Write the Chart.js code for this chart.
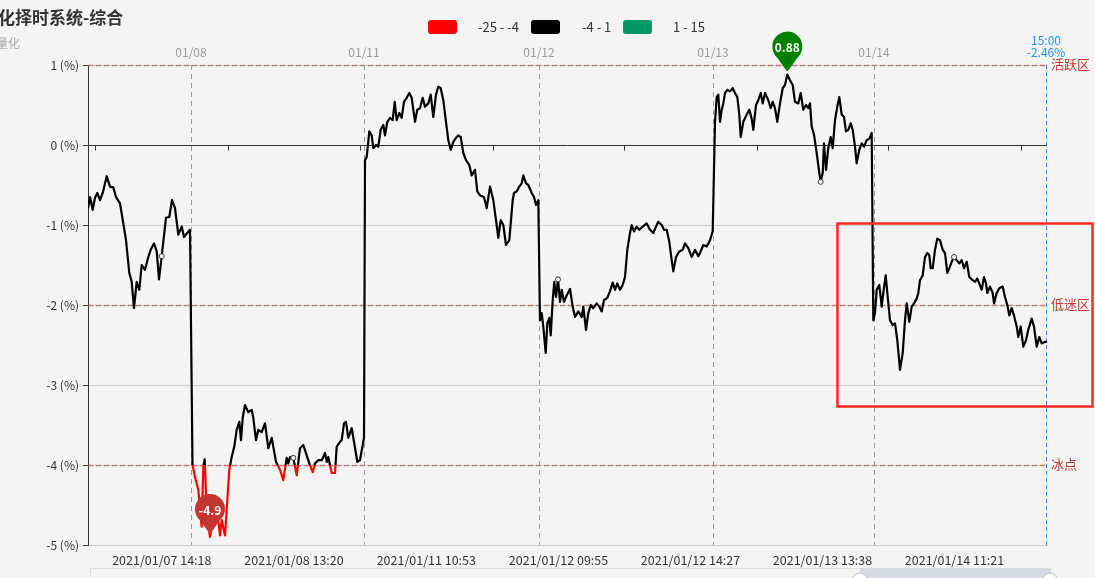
<!DOCTYPE html>
<html>
<head>
<meta charset="utf-8">
<script src="https://cdn.jsdelivr.net/npm/chart.js@4.4.1/dist/chart.umd.min.js"></script>
<style>
    html, body { margin: 0; padding: 0; background: #f4f4f4; }
    #wrap { position: relative; width: 1095px; height: 578px; overflow: hidden; }
</style>
</head>
<body>
<div id="wrap"><canvas id="trendChart" width="1095" height="578"></canvas></div>
<script>
// ---- data: position along the session axis and value (%) for each day ----
const pos0107 = [0, 2, 4.7, 7, 9.3, 12, 14.7, 18.7, 22, 25.3, 28, 32, 35.3, 38, 41.3, 43.7, 46, 48.7, 51.3, 53.7, 57, 60.3, 62.7, 66, 68.7, 71, 73.7, 78, 81.3, 84, 87, 90.3, 93.7, 96, 99.3, 102];
const val0107 = [-0.79, -0.65, -0.81, -0.66, -0.6, -0.69, -0.6, -0.39, -0.52, -0.53, -0.65, -0.73, -0.98, -1.19, -1.6, -1.71, -2.04, -1.71, -1.81, -1.5, -1.56, -1.4, -1.31, -1.23, -1.33, -1.68, -1.39, -0.91, -0.9, -0.69, -0.79, -1.12, -1.02, -1.15, -1.1, -1.06];

const pos0108 = [104.5, 107, 110.3, 113.7, 115.3, 116.7, 118.7, 122, 125.3, 128.7, 132, 133.7, 137, 138.7, 141.3, 143.7, 146.3, 148.7, 151.3, 153, 154.7, 157, 160.3, 163.7, 165.3, 168, 170.3, 173.7, 177, 180.3, 183.7, 185.3, 188, 192, 195.3, 198.7, 200.3, 202, 205.3, 208.7, 212, 215.3, 218.7, 221.3, 224.7, 227, 230.3, 233.7, 237, 238.7, 240.3, 243.7, 247, 248.7, 252, 253.7, 256, 258, 260.3, 263.7, 266, 269.3, 272, 274.7, 276];
const val0108 = [-4.0, -4.15, -4.31, -4.77, -4.02, -3.93, -4.6, -4.9, -4.69, -4.52, -4.88, -4.69, -4.88, -4.56, -4.06, -3.9, -3.77, -3.56, -3.46, -3.69, -3.41, -3.25, -3.34, -3.31, -3.41, -3.69, -3.56, -3.59, -3.48, -3.79, -3.66, -3.77, -3.96, -4.06, -4.19, -3.91, -3.98, -3.9, -3.91, -4.13, -3.79, -3.75, -3.88, -3.98, -4.09, -3.98, -3.94, -3.94, -3.85, -3.96, -3.9, -4.1, -4.1, -3.77, -3.71, -3.69, -3.48, -3.46, -3.66, -3.54, -3.71, -3.96, -3.94, -3.75, -3.66];

const pos0111 = [277, 278.7, 281.3, 283.7, 285.3, 288, 290.3, 292.7, 295.3, 297, 299.3, 302, 304.7, 306.7, 308.7, 311.3, 313.7, 316, 318.7, 321.3, 323.7, 327, 329.3, 332, 334.7, 337, 340.3, 342.7, 345.3, 348, 350.3, 352.7, 355.3, 358, 360.3, 362.7, 365.3, 368, 370.3, 372.7, 375.3, 378, 381.3, 383.7, 387, 389.3, 392, 396, 398.7, 402, 405.3, 408, 410.3, 412.7, 415.3, 418, 421.3, 424.7, 426, 428.7, 431.3, 433.7, 435.3, 438, 440.3, 443.7, 446, 448, 450.3];
const val0111 = [-0.19, -0.15, 0.17, 0.12, -0.04, 0, -0.02, 0.19, 0.25, 0.12, 0.29, 0.34, 0.31, 0.54, 0.31, 0.4, 0.34, 0.54, 0.59, 0.65, 0.59, 0.29, 0.44, 0.46, 0.59, 0.48, 0.52, 0.63, 0.35, 0.63, 0.73, 0.71, 0.56, 0.29, 0.06, -0.06, 0.04, 0.09, 0.12, 0.1, -0.1, -0.19, -0.25, -0.38, -0.31, -0.58, -0.63, -0.65, -0.79, -0.52, -0.69, -0.94, -1.16, -0.94, -1.0, -1.25, -1.19, -0.69, -0.6, -0.58, -0.52, -0.48, -0.38, -0.48, -0.5, -0.6, -0.65, -0.75, -0.69];

const pos0112 = [452, 453.7, 455.3, 457.7, 459.3, 461.3, 462.7, 464.7, 466.3, 468, 470, 472, 473.7, 476, 478.7, 482, 484.7, 487, 490.3, 493.7, 495.3, 498, 500.3, 502.7, 505.3, 508.7, 511.3, 513.7, 516, 519.3, 522, 524.7, 527, 529.3, 532, 534.7, 537, 539.3, 542, 543.7, 546, 548.7, 551.3, 554.7, 558.7, 562, 565.3, 568, 570.3, 573.7, 576, 578.7, 581.3, 583.7, 585.3, 588, 591.3, 594.7, 597, 600.3, 603.7, 607, 610.3, 612, 615.3, 618.7, 622, 624.7];
const val0112 = [-2.19, -2.1, -2.27, -2.6, -2.23, -2.16, -2.38, -1.94, -1.71, -1.9, -1.68, -1.96, -1.81, -1.96, -1.88, -1.8, -2.02, -2.15, -2.08, -2.15, -2.02, -2.31, -2.1, -2.0, -2.04, -1.98, -2.02, -2.08, -1.94, -1.91, -1.83, -1.72, -1.81, -1.73, -1.81, -1.75, -1.65, -1.31, -1.1, -1.0, -1.08, -1.02, -1.06, -1.02, -0.98, -1.06, -1.1, -1.02, -0.96, -1.0, -1.06, -1.06, -1.21, -1.44, -1.58, -1.4, -1.33, -1.31, -1.23, -1.29, -1.4, -1.31, -1.39, -1.35, -1.25, -1.27, -1.19, -1.08];

const pos0113 = [627, 628.7, 630.3, 632, 633.7, 635.3, 637, 639.3, 642, 644.7, 647, 649.3, 651.3, 652.7, 655.3, 658.7, 661.3, 663.7, 665.3, 668, 670.3, 672.7, 674.7, 677, 680.3, 682.7, 684.7, 687, 689.3, 692, 694.7, 697, 699.3, 702, 704.7, 707, 710.3, 712.7, 715.3, 718, 720.3, 722, 723.7, 726, 728.7, 731.3, 732.7, 734.7, 736, 738, 740.3, 742.7, 744.7, 747, 749.3, 751.3, 753.7, 756, 758, 760.3, 762.7, 764.7, 767, 768.7, 771.3, 773.7, 776, 778.7, 781.3, 783.7];
const val0113 = [0.29, 0.6, 0.63, 0.29, 0.44, 0.52, 0.65, 0.69, 0.67, 0.71, 0.65, 0.6, 0.38, 0.1, 0.29, 0.38, 0.44, 0.33, 0.19, 0.5, 0.56, 0.65, 0.52, 0.65, 0.56, 0.46, 0.54, 0.46, 0.29, 0.52, 0.71, 0.75, 0.88, 0.81, 0.75, 0.54, 0.52, 0.65, 0.44, 0.5, 0.46, 0.52, 0.23, 0.13, -0.1, -0.35, -0.46, -0.35, 0.02, -0.31, -0.04, 0.1, -0.04, 0.31, 0.48, 0.6, 0.38, 0.35, 0.17, 0.19, 0.27, 0.19, -0.02, -0.23, -0.06, 0.02, -0.02, 0.06, 0.08, 0.15];

const pos0114 = [785.3, 787, 788.7, 791.3, 793.7, 795.3, 797.7, 799.7, 802, 804.7, 807, 809.3, 812, 814.7, 817, 818.7, 821.3, 823.7, 826, 828.7, 830.3, 832, 834.7, 837, 839.3, 841.3, 842.7, 844.7, 847, 849.3, 852, 854.7, 857, 859.3, 861.3, 863.7, 866, 868.7, 871.3, 873.7, 876, 878.7, 881.3, 884.7, 887, 889.3, 891.3, 893.7, 896, 898, 899.3, 902, 904.7, 906, 908.7, 911.3, 914.7, 917, 919.3, 921.3, 923.7, 926, 928.7, 930.3, 932.7, 935.3, 938, 940.3, 943.7, 946, 948.7, 951.3, 953.7, 957, 959];
const val0114 = [-2.19, -2.1, -1.81, -1.75, -2.02, -1.85, -1.63, -1.9, -2.19, -2.25, -2.23, -2.44, -2.81, -2.6, -2.19, -1.98, -2.21, -2.02, -1.98, -1.92, -1.85, -1.69, -1.63, -1.4, -1.35, -1.38, -1.54, -1.54, -1.31, -1.17, -1.19, -1.31, -1.35, -1.6, -1.54, -1.46, -1.4, -1.44, -1.48, -1.44, -1.54, -1.46, -1.65, -1.69, -1.71, -1.67, -1.73, -1.81, -1.65, -1.73, -1.85, -1.77, -1.85, -1.98, -1.85, -1.79, -1.77, -1.9, -2.0, -2.13, -2.04, -2.13, -2.27, -2.4, -2.27, -2.52, -2.44, -2.31, -2.17, -2.27, -2.52, -2.4, -2.48, -2.46, -2.46];

const positions = [].concat(pos0107, pos0108, pos0111, pos0112, pos0113, pos0114);
const values = [].concat(val0107, val0108, val0111, val0112, val0113, val0114);
const axisEnd = 959;

// hollow event markers (positions)
const markPos = [73.7, 205.3, 470, 732.7, 866];

// day separators and their labels
const dayLabels = ['01/08', '01/11', '01/12', '01/13', '01/14'];
const dayLinePos = [103, 276, 451, 625, 786];

// bottom time labels
const timeLabels = ['2021/01/07 14:18', '2021/01/08 13:20', '2021/01/11 10:53', '2021/01/12 09:55', '2021/01/12 14:27', '2021/01/13 13:38', '2021/01/14 11:21'];
const timeLabelPos = [73.8, 206, 338.3, 470.5, 602.5, 734.5, 866.5];
const axisTickPos = [7.3, 140.3, 272, 404.7, 536.3, 668.7, 800.3, 932.7];
const lastTime = '15:00';

// y axis
const yTicks = [1, 0, -1, -2, -3, -4, -5];

// levels
const levelValues = [1, -2, -4];
const levelNames = ['活跃区', '低迷区', '冰点'];

// visual map pieces
const pieceLabels = ['-25 - -4', '-4 - 1', '1 - 15'];
const pieceColors = ['#ff0000', '#000000', '#009966'];
const pieceBounds = [-4, 1];

const FONT = '"Noto Sans CJK SC", "Noto Sans", sans-serif';
Chart.defaults.font.family = FONT;

const canvas = document.getElementById('trendChart');
const ctx = canvas.getContext('2d');

function lineColor(context) {
    const chart = context.chart;
    const area = chart.chartArea;
    if (!area) return '#000';
    const y = chart.scales.y;
    const g = chart.ctx.createLinearGradient(0, area.top, 0, area.bottom);
    const h = area.bottom - area.top;
    const pHi = Math.min(1, Math.max(0, (y.getPixelForValue(pieceBounds[1]) - area.top) / h));
    const pLo = Math.min(1, Math.max(0, (y.getPixelForValue(pieceBounds[0]) - area.top) / h));
    g.addColorStop(0, pieceColors[2]);
    g.addColorStop(pHi, pieceColors[2]);
    g.addColorStop(pHi, pieceColors[1]);
    g.addColorStop(pLo, pieceColors[1]);
    g.addColorStop(pLo, pieceColors[0]);
    g.addColorStop(1, pieceColors[0]);
    return g;
}

function drawPin(c, x, y, color, text) {
    const cy = y - 28;
    c.save();
    c.fillStyle = color;
    c.beginPath();
    c.arc(x, cy, 15, Math.PI * 0.72, Math.PI * 2.28);
    c.quadraticCurveTo(x + 4, cy + 20, x, y - 3);
    c.quadraticCurveTo(x - 4, cy + 20, x - 15 * Math.cos(Math.PI * 0.28), cy + 15 * Math.sin(Math.PI * 0.28));
    c.closePath();
    c.fill();
    c.fillStyle = '#fff';
    c.font = 'bold 12px ' + FONT;
    c.textAlign = 'center';
    c.textBaseline = 'middle';
    c.fillText(text, x, cy + 1);
    c.restore();
}

const decorations = {
    id: 'decorations',
    beforeDatasetsDraw(chart) {
        const c = chart.ctx;
        const area = chart.chartArea;
        const xs = chart.scales.x;
        const ys = chart.scales.y;
        c.save();

        // level dashed lines
        c.strokeStyle = 'rgba(200,90,90,0.75)';
        c.lineWidth = 1.5;
        c.setLineDash([5, 3]);
        levelValues.forEach(v => {
            const py = Math.round(ys.getPixelForValue(v)) + 0.5;
            c.beginPath();
            c.moveTo(area.left, py);
            c.lineTo(area.right, py);
            c.stroke();
        });

        // day separators
        c.strokeStyle = '#999';
        c.lineWidth = 1;
        c.setLineDash([5, 4]);
        dayLinePos.forEach(p => {
            const px = Math.round(xs.getPixelForValue(p)) + 0.5;
            c.beginPath();
            c.moveTo(px, area.top);
            c.lineTo(px, area.bottom);
            c.stroke();
        });

        // last point marker line
        c.strokeStyle = '#1e90ff';
        c.setLineDash([4, 3]);
        const ex = Math.round(xs.getPixelForValue(positions[positions.length - 1])) - 0.5;
        c.beginPath();
        c.moveTo(ex, area.top);
        c.lineTo(ex, area.bottom);
        c.stroke();

        // zero axis line with ticks
        c.setLineDash([]);
        c.strokeStyle = '#333';
        const zy = Math.round(ys.getPixelForValue(0)) + 0.5;
        c.beginPath();
        c.moveTo(area.left, zy);
        c.lineTo(area.right, zy);
        axisTickPos.forEach(p => {
            const px = Math.round(xs.getPixelForValue(p)) + 0.5;
            c.moveTo(px, zy);
            c.lineTo(px, zy + 5);
        });
        c.stroke();
        c.restore();
    },
    afterDraw(chart) {
        const c = chart.ctx;
        const area = chart.chartArea;
        const xs = chart.scales.x;
        const ys = chart.scales.y;
        c.save();

        // title / subtitle
        c.textBaseline = 'middle';
        c.textAlign = 'left';
        c.fillStyle = '#333';
        c.font = 'bold 17px ' + FONT;
        c.fillText('量化择时系统-综合', -19, 18);
        c.fillStyle = '#aaa';
        c.font = '12px ' + FONT;
        c.textAlign = 'right';
        c.fillText('量化', 20, 43);

        // legend
        const boxX = [428, 531, 623];
        const textX = [478, 582, 673];
        c.font = '13px ' + FONT;
        c.textAlign = 'left';
        pieceLabels.forEach((label, i) => {
            c.fillStyle = pieceColors[i];
            c.beginPath();
            c.roundRect(boxX[i], 20, 29, 14, 3);
            c.fill();
            c.fillStyle = '#333';
            c.fillText(label, textX[i], 27);
        });

        // day labels on top
        c.font = '12px ' + FONT;
        c.fillStyle = '#999';
        c.textAlign = 'center';
        dayLabels.forEach((label, i) => {
            c.fillText(label, xs.getPixelForValue(dayLinePos[i]), 52);
        });

        // last value text
        const last = values[values.length - 1];
        const ex = xs.getPixelForValue(positions[positions.length - 1]) - 1;
        c.fillStyle = '#1e90ff';
        c.fillText(lastTime, ex, 40);
        c.fillText(last.toFixed(2) + '%', ex, 52);

        // level names
        c.fillStyle = '#c23531';
        c.font = '13px ' + FONT;
        c.textAlign = 'left';
        levelValues.forEach((v, i) => {
            c.fillText(levelNames[i], area.right + 4, ys.getPixelForValue(v) - 1);
        });

        // max / min pins
        let maxI = 0, minI = 0;
        values.forEach((v, i) => {
            if (v > values[maxI]) maxI = i;
            if (v < values[minI]) minI = i;
        });
        drawPin(c, xs.getPixelForValue(positions[maxI]), ys.getPixelForValue(values[maxI]), '#008000', String(values[maxI]));
        drawPin(c, xs.getPixelForValue(positions[minI]), ys.getPixelForValue(values[minI]), '#c23531', String(values[minI]));

        // highlight box
        c.strokeStyle = '#ff2a1f';
        c.lineWidth = 2.5;
        c.strokeRect(837.5, 223.5, 255, 183);

        // data zoom slider (partly visible)
        c.lineWidth = 1;
        c.strokeStyle = '#ddd';
        c.strokeRect(90.5, 568.5, 960, 30);
        c.fillStyle = 'rgba(167,183,204,0.4)';
        c.fillRect(860, 569, 190, 10);
        c.fillStyle = '#fff';
        c.strokeStyle = '#bbb';
        [860, 1050].forEach(hx => {
            c.beginPath();
            c.arc(hx, 580, 7, 0, Math.PI * 2);
            c.fill();
            c.stroke();
        });
        c.restore();
    }
};

new Chart(ctx, {
    type: 'line',
    data: {
        datasets: [{
            label: '综合',
            data: values.map((v, i) => ({ x: positions[i], y: v })),
            borderColor: lineColor,
            borderWidth: 2.2,
            borderJoinStyle: 'round',
            pointRadius: function (context) {
                const p = context.raw ? context.raw.x : null;
                return markPos.indexOf(p) >= 0 ? 2.5 : 0;
            },
            pointBackgroundColor: '#fff',
            pointBorderColor: '#333',
            pointBorderWidth: 1,
            tension: 0,
            fill: false
        }]
    },
    options: {
        responsive: false,
        animation: false,
        layout: {
            padding: { top: 65, right: 48, left: 0, bottom: 0 }
        },
        plugins: {
            legend: { display: false },
            tooltip: { enabled: false }
        },
        scales: {
            x: {
                type: 'linear',
                min: 0,
                max: axisEnd,
                grid: { display: false, drawTicks: false },
                border: { color: '#ccc' },
                afterBuildTicks: function (scale) {
                    scale.ticks = timeLabelPos.map(v => ({ value: v }));
                },
                afterFit: function (scale) {
                    scale.height = 33;
                },
                ticks: {
                    autoSkip: false,
                    maxRotation: 0,
                    padding: 8,
                    color: '#333',
                    font: { size: 12.5 },
                    callback: function (value, index) {
                        return timeLabels[index];
                    }
                }
            },
            y: {
                min: -5,
                max: 1,
                afterBuildTicks: function (scale) {
                    scale.ticks = yTicks.map(v => ({ value: v }));
                },
                afterFit: function (scale) {
                    scale.width = 88;
                },
                grid: {
                    color: '#ccc',
                    tickColor: '#333',
                    tickLength: 5
                },
                border: { color: '#333' },
                ticks: {
                    color: '#333',
                    padding: 4,
                    font: { size: 12 },
                    callback: function (value) {
                        return value + ' (%)';
                    }
                }
            }
        }
    },
    plugins: [decorations]
});
</script>
</body>
</html>
